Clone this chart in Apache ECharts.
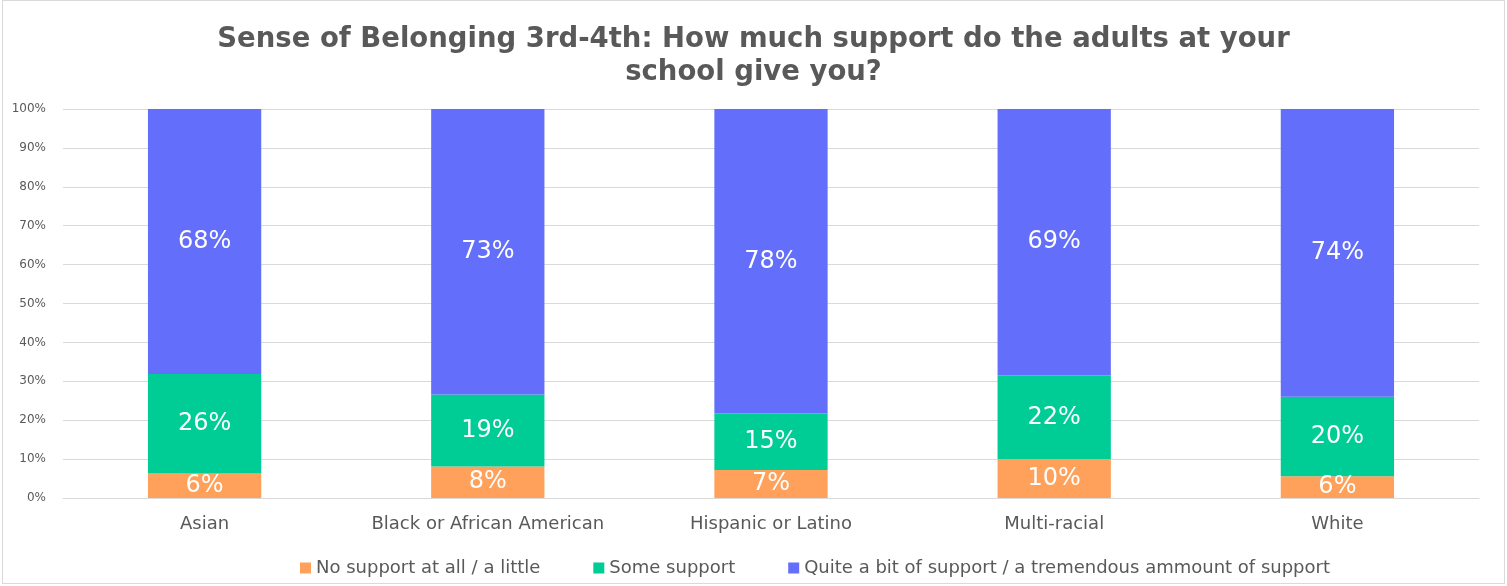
<!DOCTYPE html>
<html>
<head>
<meta charset="utf-8">
<script src="https://cdn.jsdelivr.net/npm/echarts@6/dist/echarts.min.js"></script>
<style>
  html, body { margin: 0; padding: 0; background: #fff; }
  #chart { position: absolute; left: 2px; top: 0; width: 1503px; height: 584px; border: 1px solid #d9d9d9; box-sizing: border-box; }
</style>
</head>
<body>
<div id="chart"></div>
<script>
  const categories = ['Asian', 'Black or African American', 'Hispanic or Latino', 'Multi-racial', 'White']
  const seriesNames = ['No support at all / a little', 'Some support', 'Quite a bit of support / a tremendous ammount of support']
  // shares (percent)
  const noSupport = [6.3, 8.1, 7.2, 10.0, 5.6]
  const someSupport = [25.6, 18.5, 14.5, 21.5, 20.4]
  const quiteABit = [68.1, 73.4, 78.3, 68.5, 74.0]
  const yTicks = [0, 10, 20, 30, 40, 50, 60, 70, 80, 90, 100]

  const colors = ['#FFA15A', '#00CC96', '#636EFA']
  const font = 'DejaVu Sans, Verdana, sans-serif'

  let chart = echarts.init(document.getElementById('chart'))

  function makeSeries(name, data, color) {
    return {
      name: name,
      type: 'bar',
      stack: 'total',
      barWidth: '40%',
      data: data,
      itemStyle: { color: color },
      label: {
        show: true,
        position: 'inside',
        color: '#fff',
        fontSize: 24,
        fontFamily: font,
        formatter: p => Math.round(p.value) + '%'
      }
    }
  }

  chart.setOption({
    animation: false,
    title: {
      text: 'Sense of Belonging 3rd-4th: How much support do the adults at your\nschool give you?',
      left: 'center',
      top: 17,
      textStyle: {
        fontFamily: font,
        fontSize: 27.5,
        fontWeight: 'bold',
        color: '#595959',
        lineHeight: 33
      }
    },
    legend: {
      bottom: 1,
      left: 292,
      itemWidth: 11,
      itemHeight: 11,
      itemGap: 53,
      icon: 'rect',
      data: seriesNames,
      textStyle: { fontFamily: font, fontSize: 18, color: '#595959' }
    },
    grid: {
      left: 60,
      right: 25,
      top: 108,
      bottom: 85,
      containLabel: false
    },
    xAxis: {
      type: 'category',
      data: categories,
      axisLine: { lineStyle: { color: '#d9d9d9' } },
      axisTick: { show: false },
      axisLabel: { fontFamily: font, fontSize: 18, color: '#595959', margin: 17, interval: 0 }
    },
    yAxis: {
      type: 'value',
      min: yTicks[0],
      max: yTicks[yTicks.length - 1],
      interval: 10,
      axisLine: { show: false },
      axisTick: { show: false },
      splitLine: { lineStyle: { color: '#d9d9d9', width: 1 } },
      axisLabel: { fontFamily: font, fontSize: 12, color: '#595959', formatter: '{value}%', margin: 17 }
    },
    series: [
      makeSeries(seriesNames[0], noSupport, colors[0]),
      makeSeries(seriesNames[1], someSupport, colors[1]),
      makeSeries(seriesNames[2], quiteABit, colors[2])
    ]
  })
</script>
</body>
</html>
